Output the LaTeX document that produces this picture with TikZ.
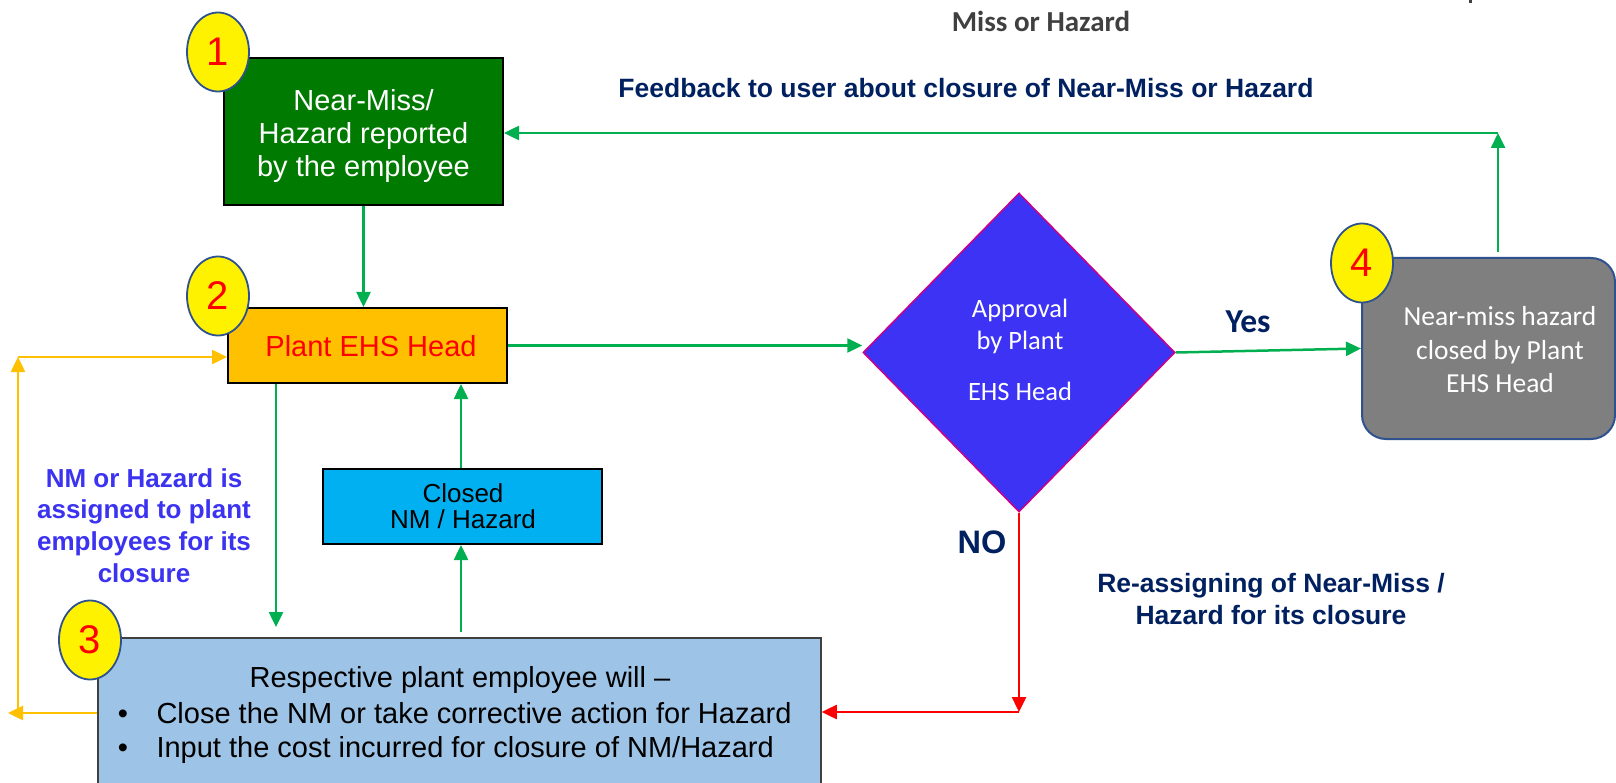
\documentclass[tikz,border=0pt]{standalone}
\usepackage{fontspec}
\setmainfont{Liberation Sans}
\newfontfamily\carlito{Carlito}
\usetikzlibrary{arrows.meta,shapes.geometric}
\definecolor{arrowgreen}{HTML}{00B050}
\definecolor{boxgreen}{HTML}{007A00}
\definecolor{ehsorange}{HTML}{FFC000}
\definecolor{closedcyan}{HTML}{00B0F0}
\definecolor{lightblue}{HTML}{9DC3E6}
\definecolor{boxgray}{HTML}{7F7F7F}
\definecolor{grayborder}{HTML}{2F528F}
\definecolor{dfill}{HTML}{3C33F5}
\definecolor{dborder}{HTML}{CC0088}
\definecolor{navytext}{HTML}{002060}
\definecolor{bluetext}{HTML}{3B33F0}
\definecolor{darkgraytext}{HTML}{404040}
\definecolor{circleborder}{HTML}{2F528F}
\newcommand\tlines[1]{\begin{tabular}[t]{@{}c@{}}#1\end{tabular}}
\begin{document}
\begin{tikzpicture}[x=1pt,y=-1pt,
  box/.style={draw=black, line width=2pt, inner sep=0pt, rectangle},
  numcircle/.style={ellipse, draw=circleborder, fill=yellow, line width=1.8pt,
    minimum width=62pt, minimum height=79pt, inner sep=0pt, text=red,
    font=\fontsize{40}{40}\selectfont},
  tip/.style={-{Triangle[length=15pt,width=14pt]}},
  garrow/.style={draw=arrowgreen, line width=2.5pt, tip},
  rarrow/.style={draw=red, line width=2.5pt, tip},
  yarrow/.style={draw=ehsorange, line width=2.5pt, tip},
  boxtext/.style={font=\fontsize{29}{33}\selectfont, anchor=base},
  navylabel/.style={font=\bfseries\fontsize{26.5}{32}\selectfont, text=navytext, anchor=base}
]
\useasboundingbox (0,0) rectangle (1616,783);
\fill[white] (0,0) rectangle (1616,783);

% boxes
\node[box, fill=boxgreen, minimum width=279pt, minimum height=147pt] (box1) at (363.5,131.5) {};
\node[box, fill=ehsorange, minimum width=279pt, minimum height=75pt] (box2) at (367.5,345.5) {};
\node[box, fill=closedcyan, minimum width=279pt, minimum height=75pt] (closed) at (462.5,506.5) {};
\node[box, draw=darkgraytext, line width=1.5pt, fill=lightblue, minimum width=723pt, minimum height=162pt] (box3) at (459.5,719) {};
\node[rectangle, rounded corners=24pt, draw=grayborder, line width=2pt, fill=boxgray,
  minimum width=253pt, minimum height=181pt, inner sep=0pt] (box4) at (1488.5,348.5) {};
\node[diamond, fill=dfill, draw=dborder, line width=1.5pt, minimum width=312pt,
  minimum height=319pt, inner sep=0pt] (diamond) at (1019,352.5) {};

% box texts
\node[boxtext, text=white] (t1) at (363.5,111) {\tlines{Near-Miss/\\Hazard reported\\by the employee}};
\node[boxtext, text=red] (t2) at (371,356) {Plant EHS Head};
\node[boxtext, font=\fontsize{26}{25}\selectfont] (tclosed) at (463,502) {\tlines{Closed\\NM / Hazard}};
\node[boxtext] (t3a) at (460,687) {Respective plant employee will –};
\node[boxtext] (bul1) at (123,723) {•};
\node[boxtext, anchor=base west] (t3b) at (153,723) {Close the NM or take corrective action for Hazard};
\node[boxtext] (bul2) at (123,757) {•};
\node[boxtext, anchor=base west] (t3c) at (153,757) {Input the cost incurred for closure of NM/Hazard};
\node[anchor=base, text=white, font=\carlito\fontsize{26.5}{32}\selectfont] (td) at (1020,318)
  {\tlines{Approval\\by Plant\\[19pt]EHS Head}};
\node[anchor=base, text=white, font=\carlito\fontsize{27.5}{33.5}\selectfont] (t4) at (1500,326)
  {\tlines{Near-miss hazard\\closed by Plant\\EHS Head}};

% number circles
\node[numcircle] (c1) at (218,52) {1};
\node[numcircle] (c2) at (218,296) {2};
\node[numcircle] (c3) at (90,640) {3};
\node[numcircle] (c4) at (1362,263) {4};

% labels
\node[anchor=base, text=darkgraytext, font=\carlito\bfseries\fontsize{29}{32}\selectfont] (top) at (1041,32) {Miss or Hazard};
\fill[darkgraytext] (1468.5,0) rectangle (1471.5,3.5);
\node[navylabel] (fb) at (966,98) {Feedback to user about closure of Near-Miss or Hazard};
\node[anchor=base, text=navytext, font=\carlito\bfseries\fontsize{33.5}{34}\selectfont] (yes) at (1248,333) {Yes};
\node[anchor=base, text=navytext, font=\bfseries\fontsize{32.5}{34}\selectfont] (no) at (982,553) {NO};
\node[navylabel] (reassign) at (1271,592) {\tlines{Re-assigning of Near-Miss /\\Hazard for its closure}};
\node[anchor=base, text=bluetext, font=\bfseries\fontsize{26}{31.7}\selectfont] (assign) at (144,487)
  {\tlines{NM or Hazard is\\assigned to plant\\employees for its\\closure}};

% connectors
\coordinate (fbstart) at (1498,252);
\coordinate (fbcorner) at (1498,133);
\draw[garrow] (fbstart) -- (fbcorner);
\draw[garrow] (fbcorner) -- (box1.east |- fbcorner);
\draw[garrow] (box1.south) -- (box1.south |- box2.north);
\draw[garrow] (box2.east) -- (diamond.west |- box2.east);
\draw[garrow] (diamond.east) -- (box4.west);
\coordinate (d1) at (276,627);
\draw[garrow] (box2.south -| d1) -- (d1);
\coordinate (u1) at (461,632);
\draw[garrow] (u1) -- (closed.south -| u1);
\draw[garrow] (closed.north -| u1) -- (box2.south -| u1);
\coordinate (rc) at (0,712);
\draw[rarrow] (diamond.south) -- (diamond.south |- rc);
\draw[rarrow] (diamond.south |- rc) -- (box3.east |- rc);
\coordinate (yl) at (8,713);
\draw[yarrow] (box3.west |- yl) -- (yl);
\coordinate (ybot) at (18,713);
\coordinate (ytop) at (18,357);
\draw[yarrow] (ybot) -- (ytop);
\draw[yarrow] (ytop) -- (box2.west |- ytop);
\end{tikzpicture}
\end{document}
